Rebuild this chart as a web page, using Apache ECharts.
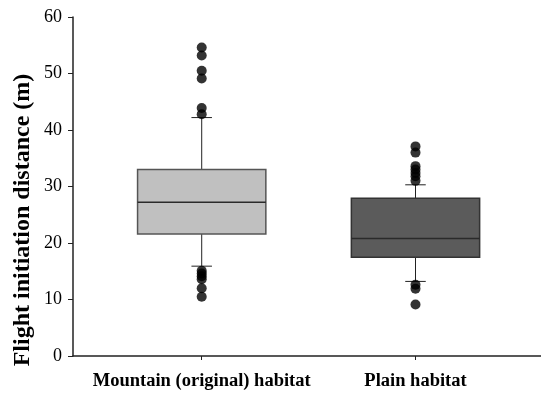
<!DOCTYPE html>
<html>
<head>
<meta charset="utf-8">
<script src="https://cdn.jsdelivr.net/npm/echarts@6/dist/echarts.min.js"></script>
<style>html,body{margin:0;padding:0;background:#fff}#c{width:541px;height:395px}</style>
</head>
<body>
<div id="c"></div>
<script>
// Categories and their x positions
const categories = ['Mountain (original) habitat', 'Plain habitat'];
const catPositions = [1, 2];
// Box statistics: [lower whisker, Q1, median, Q3, upper whisker]
const mountainBox = [15.9, 21.6, 27.2, 33.0, 42.2];
const plainBox = [13.2, 17.5, 20.8, 27.9, 30.3];
// Outliers
const mountainOutliers = [54.6, 53.2, 50.5, 49.1, 43.9, 42.8, 15.1, 14.6, 14.1, 13.6, 12.0, 10.5];
const plainOutliers = [37.1, 36.0, 33.6, 33.0, 32.4, 31.8, 31.0, 12.6, 11.9, 9.1];
// Y ticks
const yMin = 0, yMax = 60, yStep = 10;
const yTitle = 'Flight initiation distance (m)';

const boxFills = ['#c0c0c0', '#5b5b5b'];
const boxBorders = ['#555555', '#333333'];

const boxData = [
  [catPositions[0], ...mountainBox, 0],
  [catPositions[1], ...plainBox, 1]
];
const outlierData = [];
mountainOutliers.forEach(v => outlierData.push([catPositions[0], v]));
plainOutliers.forEach(v => outlierData.push([catPositions[1], v]));

const chart = echarts.init(document.getElementById('c'));
const halfW = 0.30, capHalf = 0.048;
chart.setOption({
  animation: false,
  backgroundColor: '#fff',
  grid: {left: 73, right: 0, top: 17, bottom: 39, containLabel: false},
  graphic: [{
    type: 'text',
    x: 23, y: 220,
    rotation: Math.PI / 2,
    style: {text: yTitle, fontFamily: 'Liberation Serif', fontWeight: 'bold', fontSize: 24, fill: '#000',
      align: 'center', verticalAlign: 'middle'}
  }],
  xAxis: {
    type: 'value', min: 0.398, max: 2.587,
    splitLine: {show: false},
    axisLine: {show: true, lineStyle: {color: '#222', width: 1.5}},
    axisTick: {show: true, customValues: catPositions, length: 4, lineStyle: {color: '#222', width: 1}},
    axisLabel: {
      customValues: catPositions,
      formatter: v => categories[Math.round(v) - 1] || '',
      fontFamily: 'Liberation Serif', fontWeight: 'bold', fontSize: 18.5, color: '#000', margin: 16
    }
  },
  yAxis: {
    type: 'value', min: yMin, max: yMax, interval: yStep,
    splitLine: {show: false},
    axisLine: {show: true, lineStyle: {color: '#222', width: 1.5}},
    axisTick: {show: true, length: 5, lineStyle: {color: '#222', width: 1}},
    axisLabel: {fontFamily: 'Liberation Serif', fontSize: 18, color: '#000', margin: 11}
  },
  series: [
    {
      type: 'custom',
      data: boxData,
      encode: {x: 0, y: [1, 2, 3, 4, 5]},
      renderItem: function (params, api) {
        const x = api.value(0);
        const idx = api.value(6);
        const lw = api.coord([x, api.value(1)]);
        const q1 = api.coord([x, api.value(2)]);
        const md = api.coord([x, api.value(3)]);
        const q3 = api.coord([x, api.value(4)]);
        const uw = api.coord([x, api.value(5)]);
        const l = api.coord([x - halfW, 0])[0];
        const r = api.coord([x + halfW, 0])[0];
        const cl = api.coord([x - capHalf, 0])[0];
        const cr = api.coord([x + capHalf, 0])[0];
        const lineStyle = {stroke: '#222', lineWidth: 1};
        return {
          type: 'group',
          children: [
            {type: 'line', shape: {x1: lw[0], y1: q1[1], x2: lw[0], y2: lw[1]}, style: lineStyle},
            {type: 'line', shape: {x1: uw[0], y1: q3[1], x2: uw[0], y2: uw[1]}, style: lineStyle},
            {type: 'line', shape: {x1: cl, y1: lw[1], x2: cr, y2: lw[1]}, style: lineStyle},
            {type: 'line', shape: {x1: cl, y1: uw[1], x2: cr, y2: uw[1]}, style: lineStyle},
            {type: 'rect', shape: {x: l, y: q3[1], width: r - l, height: q1[1] - q3[1]},
              style: {fill: boxFills[idx], stroke: boxBorders[idx], lineWidth: 1.5}},
            {type: 'line', shape: {x1: l, y1: md[1], x2: r, y2: md[1]}, style: {stroke: '#2a2a2a', lineWidth: 1.5}}
          ]
        };
      },
      z: 2
    },
    {
      type: 'scatter',
      data: outlierData,
      symbol: 'circle',
      symbolSize: 10,
      itemStyle: {color: '#000'},
      z: 3
    }
  ]
});
</script>
</body>
</html>
